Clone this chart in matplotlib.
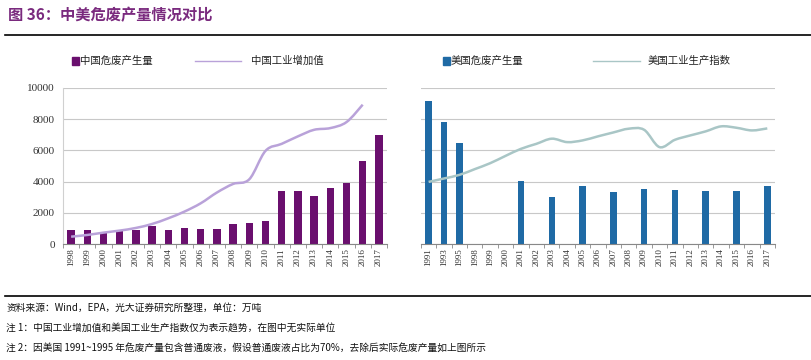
import matplotlib
matplotlib.use("Agg")
import matplotlib.pyplot as plt
import numpy as np
from matplotlib.path import Path
from matplotlib.patches import PathPatch, Rectangle
from matplotlib.lines import Line2D

plt.rcParams["font.family"] = ["Noto Sans CJK SC", "DejaVu Sans"]

# China (万吨)
CN_YEARS = [str(y) for y in range(1998, 2018)]
CN_WASTE = [900, 900, 730, 860, 900, 1135, 900, 1050, 985, 985,
            1285, 1370, 1500, 3405, 3405, 3105, 3620, 3920, 5310, 6980]
CN_IND = [470, 580, 730, 860, 1030, 1285, 1650, 2080, 2610, 3300,
          3850, 4150, 5970, 6420, 6900, 7320, 7430, 7815, 8930]  # to 2016

# USA
US_YEARS = ["1991", "1993", "1995", "1998", "1999", "2000", "2001", "2002",
            "2003", "2004", "2005", "2006", "2007", "2008", "2009", "2010",
            "2011", "2012", "2013", "2014", "2015", "2016", "2017"]
US_WASTE = [9190, 7790, 6490, None, None, None, 4050, None, 3020, None,
            3700, None, 3320, None, 3530, None, 3470, None, 3400, None,
            3400, None, 3700]
US_IND = [3980, 4200, 4430, 4800, 5180, 5650, 6100, 6420, 6750, 6530,
          6640, 6900, 7150, 7390, 7320, 6210, 6680, 6960, 7220, 7540,
          7450, 7280, 7410]

CN_BAR = "#6A0F6E"
CN_LINE = "#B9A2D9"
US_BAR = "#1F6AA5"
US_LINE = "#A9C6C6"
TITLE_C = "#7A2A7E"
SERIF = "Liberation Serif"


def smooth_line(ax, xs, ys, color, lw=1.8):
    # cubic Bezier curve through the points (Excel-style smoothed line)
    p = np.column_stack([xs, ys]).astype(float)
    n = len(p)
    verts = [p[0]]
    codes = [Path.MOVETO]
    for i in range(n - 1):
        p0 = p[i - 1] if i > 0 else p[i]
        p3 = p[i + 2] if i + 2 < n else p[i + 1]
        c1 = p[i] + (p[i + 1] - p0) / 6
        c2 = p[i + 1] - (p3 - p[i]) / 6
        verts += [c1, c2, p[i + 1]]
        codes += [Path.CURVE4] * 3
    ax.add_patch(PathPatch(Path(verts, codes), facecolor="none",
                           edgecolor=color, lw=lw, zorder=3))


def style_axis(ax, labels, show_y):
    ax.set_ylim(0, 10000)
    ax.set_xlim(-0.5, len(labels) - 0.5)
    ax.set_yticks(range(0, 10001, 2000))
    ax.grid(axis="y", color="#c8c8c8", lw=0.8)
    ax.set_axisbelow(True)
    for s in ("top", "right"):
        ax.spines[s].set_visible(False)
    ax.spines["left"].set_visible(show_y)
    ax.spines["left"].set_color("#d0d0d0")
    ax.spines["bottom"].set_color("#888888")
    ax.set_xticks(np.arange(len(labels)))
    ax.set_xticklabels(labels, rotation=90, fontsize=6.5, family=SERIF,
                       color="#333333")
    ax.tick_params(axis="x", length=0, pad=3)
    ax.set_xticks(np.arange(len(labels) + 1) - 0.5, minor=True)
    ax.tick_params(axis="x", which="minor", length=3, color="#888888")
    if show_y:
        ax.set_yticklabels([str(v) for v in range(0, 10001, 2000)],
                           fontsize=8, family=SERIF, color="#333333")
        ax.tick_params(axis="y", length=0, pad=6)
    else:
        ax.tick_params(axis="y", length=0, labelleft=False)


fig = plt.figure(figsize=(8.11, 3.6), dpi=100)

ax1 = fig.add_axes([0.0777, 0.3222, 0.3995, 0.4334])
x1 = np.arange(len(CN_YEARS))
ax1.bar(x1, CN_WASTE, width=0.46, color=CN_BAR, zorder=2)
smooth_line(ax1, x1[:len(CN_IND)], CN_IND, CN_LINE)
style_axis(ax1, CN_YEARS, True)

ax2 = fig.add_axes([0.519, 0.3222, 0.4366, 0.4334])
x2 = np.arange(len(US_YEARS))
bx = [x for x, v in zip(x2, US_WASTE) if v is not None]
bv = [v for v in US_WASTE if v is not None]
ax2.bar(bx, bv, width=0.42, color=US_BAR, zorder=2)
smooth_line(ax2, x2, US_IND, US_LINE)
style_axis(ax2, US_YEARS, False)

# title and rules
fig.text(0.010, 0.957, "图 36：中美危废产量情况对比", fontsize=11, color=TITLE_C,
         fontweight="bold", va="center")
fig.add_artist(Line2D([0.006, 1.0], [0.903, 0.903], color="black", lw=1.2))
fig.add_artist(Line2D([0.006, 1.0], [0.178, 0.178], color="black", lw=1.2))


def legend_item(x_sq, x_txt_bar, txt_bar, x_l0, x_l1, x_txt_line, txt_line,
                bar_c, line_c):
    y = 1 - 61 / 360
    fig.add_artist(Rectangle((x_sq / 811, y - 3.5 / 360), 7 / 811, 7 / 360,
                             color=bar_c, transform=fig.transFigure))
    fig.text(x_txt_bar / 811, y, txt_bar, fontsize=7.5, va="center",
             color="#222222")
    fig.add_artist(Line2D([x_l0 / 811, x_l1 / 811], [y, y], color=line_c,
                          lw=1.0))
    fig.text(x_txt_line / 811, y, txt_line, fontsize=7.5, va="center",
             color="#222222")


legend_item(72, 80, "中国危废产生量", 195, 241, 251, "中国工业增加值",
            CN_BAR, CN_LINE)
legend_item(443, 451, "美国危废产生量", 593, 640, 648, "美国工业生产指数",
            US_BAR, US_LINE)

notes = [
    "资料来源：Wind，EPA，光大证券研究所整理，单位：万吨",
    "注 1：中国工业增加值和美国工业生产指数仅为表示趋势，在图中无实际单位",
    "注 2：因美国 1991~1995 年危废产量包含普通废液，假设普通废液占比为70%，去除后实际危废产量如上图所示",
]
for i, t in enumerate(notes):
    fig.text(0.008, 1 - (308 + i * 20) / 360, t, fontsize=7, va="center",
             color="#111111")

fig.savefig("out.png", dpi=100)
